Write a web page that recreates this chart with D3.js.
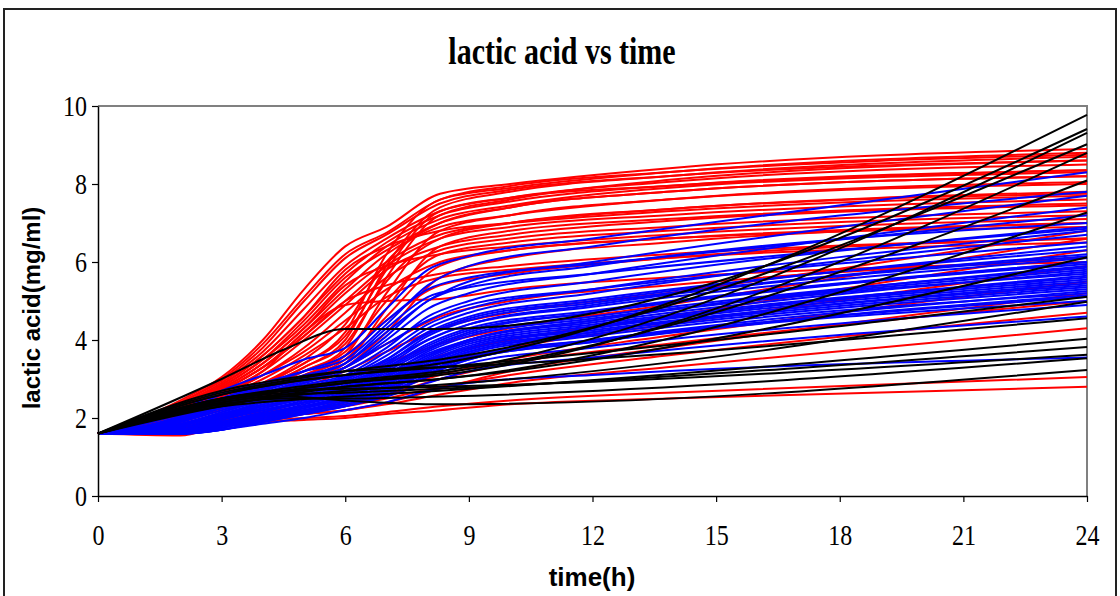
<!DOCTYPE html>
<html>
<head>
<meta charset="utf-8">
<script src="https://cdn.jsdelivr.net/npm/d3@7"></script>
<style>
body { margin: 0; background: #fff; }
svg { display: block; }
</style>
</head>
<body>
<svg id="chart" width="1120" height="596"></svg>
<script>
// sample times (h) for each group of runs
var redTimes = [0, 2, 3, 4, 5, 6, 7, 8.3, 10, 13.8, 24];
var blueTimes = [0, 2, 3, 4, 5, 6, 7, 8, 9, 12, 24];
var blackTimes = [0, 3, 4.5, 6, 8.3, 24];

// lactic acid (mg/ml), one row per run
var redSeries = [
	[1.6, 2.45, 3.05, 4.0, 5.3, 6.4, 6.9, 7.75, 8.0, 8.4, 8.9],
	[1.6, 2.4, 3.0, 3.9, 5.1, 6.2, 6.75, 7.6, 7.95, 8.3, 8.75],
	[1.6, 2.4, 2.95, 3.8, 5.0, 6.1, 6.7, 7.5, 7.85, 8.2, 8.6],
	[1.6, 2.35, 2.9, 3.7, 4.8, 5.9, 6.6, 7.3, 7.65, 8.05, 8.5],
	[1.6, 2.35, 2.85, 3.6, 4.6, 5.7, 6.5, 7.2, 7.55, 7.95, 8.35],
	[1.6, 2.3, 2.8, 3.5, 4.5, 5.6, 6.3, 7.0, 7.4, 7.8, 8.2],
	[1.6, 2.3, 2.8, 3.5, 4.4, 5.5, 6.4, 7.1, 7.45, 7.9, 8.3],
	[1.6, 2.25, 2.75, 3.4, 4.3, 5.3, 6.2, 6.9, 7.2, 7.6, 8.05],
	[1.6, 2.3, 2.85, 3.6, 4.6, 5.8, 6.4, 6.8, 7.0, 7.3, 7.7],
	[1.6, 2.25, 2.7, 3.3, 4.2, 5.2, 6.0, 6.7, 7.0, 7.35, 7.75],
	[1.6, 2.2, 2.7, 3.3, 4.1, 5.0, 5.9, 6.6, 6.9, 7.2, 7.6],
	[1.6, 2.2, 2.65, 3.2, 4.0, 4.9, 5.8, 6.4, 6.7, 7.05, 7.45],
	[1.6, 2.25, 2.75, 3.4, 4.3, 5.4, 5.9, 6.2, 6.4, 6.7, 7.1],
	[1.6, 2.2, 2.6, 3.1, 3.8, 4.7, 5.6, 6.3, 6.6, 6.9, 7.3],
	[1.6, 2.15, 2.6, 3.1, 3.7, 4.5, 5.3, 6.0, 6.3, 6.6, 7.0],
	[1.6, 2.2, 2.7, 3.3, 4.1, 5.0, 5.4, 5.7, 5.9, 6.2, 6.6],
	[1.6, 2.15, 2.55, 3.0, 3.6, 4.3, 5.1, 5.6, 5.8, 6.1, 6.5],
	[1.6, 2.2, 2.6, 3.2, 4.2, 4.9, 5.0, 5.05, 5.3, 5.6, 6.0],
	[1.6, 2.1, 2.5, 2.9, 3.4, 4.2, 6.2, 7.6, 7.9, 8.3, 8.8],
	[1.6, 2.1, 2.45, 2.8, 3.3, 4.0, 5.9, 7.4, 7.8, 8.2, 8.7],
	[1.6, 2.05, 2.4, 2.75, 3.2, 3.8, 5.6, 7.2, 7.6, 8.1, 8.6],
	[1.6, 2.1, 2.5, 2.9, 3.5, 4.4, 6.0, 7.0, 7.4, 7.8, 8.2],
	[1.6, 2.0, 2.35, 2.7, 3.1, 3.6, 5.2, 6.8, 7.2, 7.6, 8.0],
	[1.6, 2.05, 2.4, 2.8, 3.3, 3.9, 5.5, 6.6, 7.0, 7.35, 7.8],
	[1.6, 2.0, 2.3, 2.6, 3.0, 3.4, 4.8, 6.4, 6.8, 7.1, 7.5],
	[1.6, 2.0, 2.35, 2.7, 3.2, 3.7, 5.0, 6.2, 6.5, 6.8, 7.2],
	[1.6, 1.95, 2.3, 2.6, 3.0, 3.5, 4.6, 5.9, 6.3, 6.6, 6.9],
	[1.6, 2.0, 2.35, 2.7, 3.1, 3.6, 4.5, 5.4, 5.7, 6.1, 6.6],
	[1.6, 1.95, 2.25, 2.55, 2.9, 3.3, 4.2, 5.6, 6.1, 6.5, 7.0],
	[1.6, 2.05, 2.45, 2.85, 3.4, 4.1, 5.8, 7.3, 7.65, 7.95, 8.35],
	[1.6, 1.55, 1.8, 1.9, 1.95, 2.0, 2.1, 2.2, 2.35, 2.5, 2.8],
	[1.6, 1.6, 1.85, 1.95, 2.0, 2.05, 2.15, 2.3, 2.45, 2.65, 3.05],
	[1.6, 1.65, 1.9, 2.0, 2.1, 2.2, 2.35, 2.6, 2.9, 3.3, 4.3],
	[1.6, 1.7, 1.95, 2.05, 2.15, 2.3, 2.5, 2.8, 3.1, 3.6, 4.7],
	[1.6, 1.75, 2.0, 2.15, 2.3, 2.45, 2.7, 3.1, 3.5, 4.1, 5.5],
	[1.6, 1.8, 2.05, 2.2, 2.4, 2.6, 2.9, 3.4, 3.8, 4.4, 5.9],
	[1.6, 1.85, 2.1, 2.3, 2.5, 2.7, 3.1, 3.6, 4.0, 4.6, 6.3],
	[1.6, 1.9, 2.2, 2.45, 2.7, 3.0, 3.4, 3.9, 4.3, 4.9, 6.6],
	[1.6, 1.7, 1.9, 2.0, 2.1, 2.2, 2.4, 2.75, 3.2, 3.8, 5.2],
	[1.6, 1.95, 2.25, 2.5, 2.8, 3.2, 3.7, 4.3, 4.7, 5.2, 6.8],
	[1.6, 2.0, 2.3, 2.6, 2.9, 3.3, 3.9, 4.6, 5.0, 5.4, 6.1],
	[1.6, 1.75, 1.95, 2.1, 2.2, 2.35, 2.6, 3.0, 3.4, 3.9, 5.0]
];

var blueSeries = [
	[1.6, 2.2, 2.7, 3.1, 3.5, 3.8, 4.8, 5.8, 6.15, 6.6, 8.3],
	[1.6, 2.15, 2.6, 2.9, 3.2, 3.5, 4.4, 5.4, 5.9, 6.4, 7.8],
	[1.6, 2.1, 2.5, 2.8, 3.1, 3.4, 4.2, 5.0, 5.5, 6.0, 7.7],
	[1.6, 2.0, 2.4, 2.7, 3.0, 3.3, 4.0, 4.8, 5.2, 5.7, 7.4],
	[1.6, 2.0, 2.35, 2.6, 2.9, 3.2, 3.8, 4.6, 5.0, 5.5, 6.9],
	[1.6, 1.95, 2.3, 2.6, 2.85, 3.1, 3.7, 4.4, 4.8, 5.3, 6.8],
	[1.6, 1.9, 2.25, 2.5, 2.8, 3.05, 3.6, 4.3, 4.7, 5.2, 6.7],
	[1.6, 1.9, 2.2, 2.5, 2.75, 3.0, 3.5, 4.2, 4.6, 5.05, 6.3],
	[1.6, 1.85, 2.15, 2.45, 2.7, 2.95, 3.4, 4.1, 4.5, 4.95, 6.2],
	[1.6, 1.85, 2.1, 2.4, 2.65, 2.9, 3.35, 4.0, 4.4, 4.85, 6.1],
	[1.6, 1.8, 2.1, 2.35, 2.6, 2.85, 3.3, 3.9, 4.3, 4.75, 6.0],
	[1.6, 1.8, 2.05, 2.3, 2.55, 2.8, 3.25, 3.8, 4.2, 4.7, 5.95],
	[1.6, 1.75, 2.0, 2.25, 2.5, 2.75, 3.2, 3.75, 4.15, 4.6, 5.85],
	[1.6, 1.75, 2.0, 2.2, 2.45, 2.7, 3.1, 3.7, 4.1, 4.55, 5.8],
	[1.6, 1.7, 1.95, 2.2, 2.4, 2.65, 3.05, 3.6, 4.0, 4.5, 5.7],
	[1.6, 1.7, 1.9, 2.15, 2.4, 2.6, 3.0, 3.55, 3.95, 4.4, 5.6],
	[1.6, 1.7, 1.9, 2.1, 2.35, 2.6, 2.95, 3.5, 3.9, 4.35, 5.55],
	[1.6, 1.65, 1.85, 2.1, 2.3, 2.55, 2.9, 3.45, 3.85, 4.3, 5.5],
	[1.6, 1.65, 1.85, 2.05, 2.3, 2.5, 2.85, 3.4, 3.8, 4.25, 5.4],
	[1.6, 1.65, 1.8, 2.05, 2.25, 2.5, 2.8, 3.35, 3.75, 4.2, 5.35],
	[1.6, 1.6, 1.8, 2.0, 2.2, 2.45, 2.75, 3.3, 3.7, 4.15, 5.3],
	[1.6, 1.6, 1.75, 2.0, 2.2, 2.4, 2.7, 3.25, 3.65, 4.1, 5.2],
	[1.6, 1.6, 1.75, 1.95, 2.15, 2.4, 2.7, 3.2, 3.6, 4.0, 5.1],
	[1.6, 1.6, 1.7, 1.95, 2.15, 2.35, 2.65, 3.1, 3.5, 3.95, 5.0],
	[1.6, 1.6, 1.7, 1.9, 2.1, 2.3, 2.6, 3.05, 3.4, 3.8, 4.9],
	[1.6, 1.6, 1.7, 1.9, 2.1, 2.3, 2.55, 2.9, 3.2, 3.55, 4.6],
	[1.6, 1.6, 1.7, 1.85, 2.0, 2.2, 2.4, 2.7, 2.9, 3.1, 3.55],
	[1.6, 1.9, 2.3, 2.6, 2.9, 3.3, 4.1, 5.0, 5.4, 5.9, 7.0],
	[1.6, 2.05, 2.5, 2.85, 3.2, 3.6, 4.5, 5.3, 5.6, 5.95, 7.2],
	[1.6, 1.95, 2.35, 2.65, 2.95, 3.3, 3.9, 4.5, 4.9, 5.3, 6.5],
	[1.6, 1.8, 2.15, 2.45, 2.75, 3.05, 3.5, 4.15, 4.55, 5.0, 6.4],
	[1.6, 1.75, 2.05, 2.35, 2.65, 2.9, 3.3, 3.85, 4.25, 4.7, 6.0],
	[1.6, 1.7, 2.0, 2.3, 2.55, 2.8, 3.15, 3.65, 4.0, 4.45, 5.75],
	[1.6, 1.65, 1.9, 2.15, 2.4, 2.65, 3.0, 3.45, 3.8, 4.3, 5.65],
	[1.6, 1.65, 1.85, 2.1, 2.3, 2.55, 2.9, 3.35, 3.7, 4.2, 5.45],
	[1.6, 1.6, 1.8, 2.05, 2.25, 2.5, 2.8, 3.2, 3.55, 4.0, 5.25],
	[1.6, 1.6, 1.75, 1.95, 2.15, 2.4, 2.7, 3.15, 3.5, 3.95, 5.15],
	[1.6, 1.7, 1.95, 2.25, 2.5, 2.75, 3.1, 3.6, 4.0, 4.5, 5.9],
	[1.6, 2.0, 2.45, 2.75, 3.05, 3.4, 4.3, 5.1, 5.35, 5.7, 6.85],
	[1.6, 1.8, 2.1, 2.4, 2.7, 3.0, 3.45, 4.0, 4.4, 4.9, 6.15]
];

var blackSeries = [
	[1.6, 2.6, 2.9, 3.1, 3.4, 9.77],
	[1.6, 3.0, 3.75, 4.28, 4.28, 9.41],
	[1.6, 2.5, 2.75, 2.95, 3.2, 9.31],
	[1.6, 2.65, 2.95, 3.2, 3.5, 9.02],
	[1.6, 2.45, 2.7, 2.9, 3.1, 8.8],
	[1.6, 2.5, 2.7, 2.9, 3.15, 8.09],
	[1.6, 2.4, 2.6, 2.8, 3.0, 7.27],
	[1.6, 2.45, 2.65, 2.8, 3.0, 6.12],
	[1.6, 2.6, 2.9, 3.1, 3.3, 5.11],
	[1.6, 2.35, 2.55, 2.7, 2.85, 4.98],
	[1.6, 2.7, 3.0, 3.2, 3.3, 4.56],
	[1.6, 2.3, 2.45, 2.55, 2.7, 4.03],
	[1.6, 2.4, 2.6, 2.65, 2.75, 3.82],
	[1.6, 2.5, 2.7, 2.75, 2.8, 3.62],
	[1.6, 2.35, 2.5, 2.5, 2.55, 3.53],
	[1.6, 2.3, 2.55, 2.45, 2.35, 3.23]
];

var xTicks = [0, 3, 6, 9, 12, 15, 18, 21, 24];
var yTicks = [0, 2, 4, 6, 8, 10];

var svg = d3.select("#chart");
var plotLeft = 98, plotRight = 1087, plotTop = 106, plotBottom = 496;
var stretch = 1.25; // serif text in the picture is drawn tall and narrow

var x = d3.scaleLinear().domain([0, 24]).range([plotLeft, plotRight]);
var y = d3.scaleLinear().domain([0, 10]).range([plotBottom, plotTop]);

// outer chart frame
svg.append("rect")
	.attr("x", 4).attr("y", 9)
	.attr("width", 1112).attr("height", 620)
	.attr("fill", "none")
	.attr("stroke", "#222")
	.attr("stroke-width", 2);

// plot area border (top and right are grey)
svg.append("path")
	.attr("d", "M" + plotLeft + "," + plotTop + "H" + plotRight + "V" + plotBottom)
	.attr("fill", "none")
	.attr("stroke", "#808080")
	.attr("stroke-width", 2);

var lines = svg.append("g").attr("class", "runs");

function draw_group(times, series, colour) {
	var line = d3.line()
		.x(function(d, i) { return x(times[i]); })
		.y(function(d) { return y(d); })
		.curve(d3.curveMonotoneX);
	lines.selectAll(null)
		.data(series)
		.enter().append("path")
		.attr("d", line)
		.attr("fill", "none")
		.attr("stroke", colour)
		.attr("stroke-width", 2)
		.attr("stroke-linejoin", "round");
}

draw_group(redTimes, redSeries, "#ff0000");
draw_group(blueTimes, blueSeries, "#0000ff");
draw_group(blackTimes, blackSeries, "#000000");

// axes
var yAxis = svg.append("g")
	.attr("transform", "translate(" + plotLeft + ",0)")
	.call(d3.axisLeft(y).tickValues(yTicks).tickSize(6).tickSizeOuter(0).tickPadding(5));
var xAxis = svg.append("g")
	.attr("transform", "translate(0," + plotBottom + ")")
	.call(d3.axisBottom(x).tickValues(xTicks).tickSize(6).tickSizeOuter(0).tickPadding(20));

[yAxis, xAxis].forEach(function(ax) {
	ax.select(".domain").attr("stroke", "#000").attr("stroke-width", 1.5);
	ax.selectAll(".tick line").attr("stroke", "#000").attr("stroke-width", 1.2);
	ax.selectAll(".tick text")
		.attr("font-family", "'Liberation Serif', 'Times New Roman', serif")
		.attr("font-size", 24)
		.attr("fill", "#000");
});
yAxis.selectAll(".tick text")
	.attr("dy", null)
	.attr("y", 0)
	.attr("transform", "scale(1," + stretch + ")")
	.attr("dominant-baseline", "central");
xAxis.selectAll(".tick text")
	.attr("dy", null)
	.attr("y", 0)
	.attr("transform", "translate(0,49) scale(1," + stretch + ")");

// title and axis labels
svg.append("text")
	.attr("transform", "translate(562,64) scale(1," + stretch + ")")
	.attr("text-anchor", "middle")
	.attr("font-family", "'Liberation Serif', 'Times New Roman', serif")
	.attr("font-weight", "bold")
	.attr("font-size", 30)
	.text("lactic acid vs time");

svg.append("text")
	.attr("x", 592).attr("y", 586)
	.attr("text-anchor", "middle")
	.attr("font-family", "'Liberation Sans', Arial, sans-serif")
	.attr("font-weight", "bold")
	.attr("font-size", 26)
	.text("time(h)");

svg.append("text")
	.attr("transform", "translate(40,308) rotate(-90)")
	.attr("text-anchor", "middle")
	.attr("font-family", "'Liberation Sans', Arial, sans-serif")
	.attr("font-weight", "bold")
	.attr("font-size", 24)
	.text("lactic acid(mg/ml)");
</script>
</body>
</html>
